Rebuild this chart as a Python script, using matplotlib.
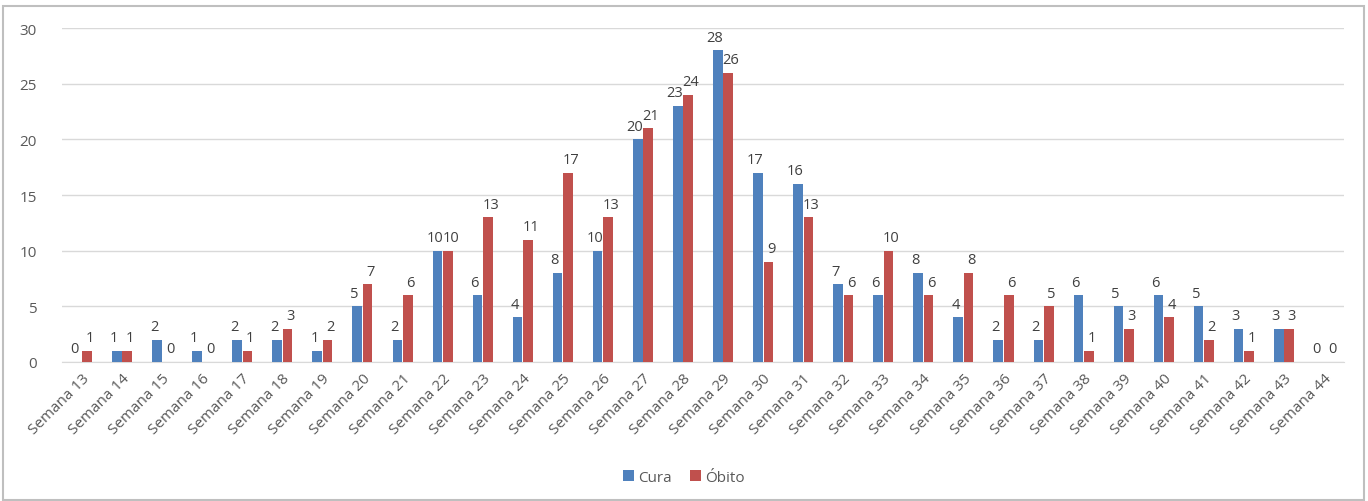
import matplotlib
matplotlib.use('Agg')
import matplotlib.pyplot as plt
import numpy as np
from matplotlib.patches import Rectangle

semanas = ['Semana %d' % i for i in range(13, 45)]
cura = [0, 1, 2, 1, 2, 2, 1, 5, 2, 10, 6, 4, 8, 10, 20, 23, 28, 17, 16, 7, 6, 8, 4, 2, 2, 6, 5, 6, 5, 3, 3, 0]
obito = [1, 1, 0, 0, 1, 3, 2, 7, 6, 10, 13, 11, 17, 13, 21, 24, 26, 9, 13, 6, 10, 6, 8, 6, 5, 1, 3, 4, 2, 1, 3, 0]

plt.rcParams['font.family'] = ['Open Sans', 'DejaVu Sans']
txt = '#595959'

fig = plt.figure(figsize=(13.68, 5.02), dpi=100)
fig.patches.append(Rectangle((0.002, 0.002), 0.995, 0.985, transform=fig.transFigure,
                             fill=False, edgecolor='#BFBFBF', linewidth=1.5))
ax = fig.add_axes([0.0453, 0.2769, 0.9372, 0.6653])

x = np.arange(len(semanas))
w = 0.24
ax.bar(x - 0.13, cura, w, color='#4F81BD', label='Cura', zorder=3)
ax.bar(x + 0.13, obito, w, color='#C0504D', label='Óbito', zorder=3)
for i in range(len(semanas)):
    ax.annotate(str(cura[i]), (x[i] - 0.13, cura[i]), xytext=(-2, 4), textcoords='offset points',
                ha='center', va='bottom', fontsize=10.5, color='#404040')
    ax.annotate(str(obito[i]), (x[i] + 0.13, obito[i]), xytext=(2, 4), textcoords='offset points',
                ha='center', va='bottom', fontsize=10.5, color='#404040')

ax.set_xlim(-0.5, len(semanas) - 0.5)
ax.set_ylim(0, 30)
ax.set_yticks(range(0, 31, 5))
ax.yaxis.grid(True, color='#D9D9D9', linewidth=1, zorder=0)
for s in ['top', 'right', 'left']:
    ax.spines[s].set_visible(False)
ax.spines['bottom'].set_color('#D9D9D9')
ax.tick_params(axis='both', length=0, labelsize=11, colors=txt)
ax.tick_params(axis='y', pad=18)
ax.tick_params(axis='x', pad=6)
ax.set_xticks(x)
ax.set_xticklabels(semanas, rotation=45, ha='right', rotation_mode='anchor')

fig.legend(loc='center', bbox_to_anchor=(0.5, 0.047), ncol=2, frameon=False,
           fontsize=11, handlelength=0.7, handleheight=0.7, handletextpad=0.3,
           columnspacing=1.2, labelcolor=txt)

fig.savefig('out.png', dpi=100)
